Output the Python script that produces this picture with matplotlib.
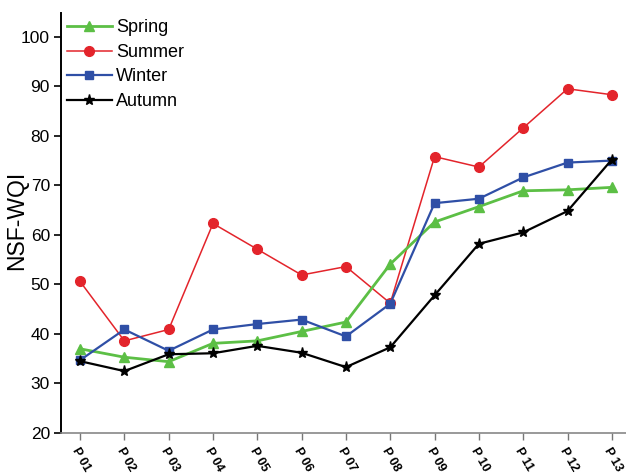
import matplotlib
matplotlib.use("Agg")
import matplotlib.pyplot as plt

sites = ["P 01", "P 02", "P 03", "P 04", "P 05", "P 06", "P 07",
         "P 08", "P 09", "P 10", "P 11", "P 12", "P 13"]
spring = [37.0, 35.3, 34.4, 38.1, 38.6, 40.5, 42.4, 54.1, 62.6, 65.7, 68.9, 69.1, 69.6]
summer = [50.6, 38.6, 40.9, 62.3, 57.1, 51.9, 53.6, 46.2, 75.8, 73.7, 81.6, 89.5, 88.3]
winter = [34.7, 40.9, 36.6, 40.9, 42.0, 42.9, 39.5, 46.1, 66.4, 67.3, 71.6, 74.6, 75.0]
autumn = [34.5, 32.5, 35.9, 36.1, 37.6, 36.2, 33.3, 37.3, 47.8, 58.2, 60.5, 64.8, 75.2]
y_ticks = [20, 30, 40, 50, 60, 70, 80, 90, 100]

plt.rcParams['font.family'] = ['Liberation Sans', 'DejaVu Sans']

fig = plt.figure(figsize=(6.26, 4.73), dpi=100)
ax = fig.add_axes([61 / 626, 1 - 433 / 473, 565 / 626, 420 / 473])

x = list(range(len(sites)))
ax.plot(x, spring, color="#5cbf45", lw=2.0, marker="^", ms=7, label="Spring", zorder=3)
ax.plot(x, summer, color="#e3242b", lw=1.1, marker="o", ms=7, label="Summer", zorder=2)
ax.plot(x, winter, color="#2f4fa6", lw=1.6, marker="s", ms=6, label="Winter", zorder=4)
ax.plot(x, autumn, color="#000000", lw=1.6, marker="*", ms=8, label="Autumn", zorder=5)

ax.set_xlim(-0.43, 12.32)
ax.set_ylim(20, 104.8)
ax.set_yticks(y_ticks)
ax.set_xticks(x)
ax.set_xticklabels(sites, rotation=-60, ha="left", va="top",
                   rotation_mode="anchor", fontsize=9, fontweight="bold")
ax.tick_params(axis="y", labelsize=12.5, direction="out", length=5, width=1.2, pad=3)
ax.tick_params(axis="x", direction="out", length=5, width=1.0, color="#777777", pad=4)
ax.set_ylabel("NSF-WQI", fontsize=16.5)
ax.yaxis.set_label_coords(-0.058, 0.507)

for side in ("top", "right"):
    ax.spines[side].set_visible(False)
ax.spines["left"].set_linewidth(1.4)
ax.spines["bottom"].set_color("#888888")
ax.spines["bottom"].set_linewidth(1.2)

ax.legend(loc="upper left", bbox_to_anchor=(0.0, 1.0), frameon=False,
          fontsize=13, handlelength=2.45, handletextpad=0.25, labelspacing=0.42,
          borderaxespad=0.15, borderpad=0.2)

fig.savefig("out.png", dpi=100)
